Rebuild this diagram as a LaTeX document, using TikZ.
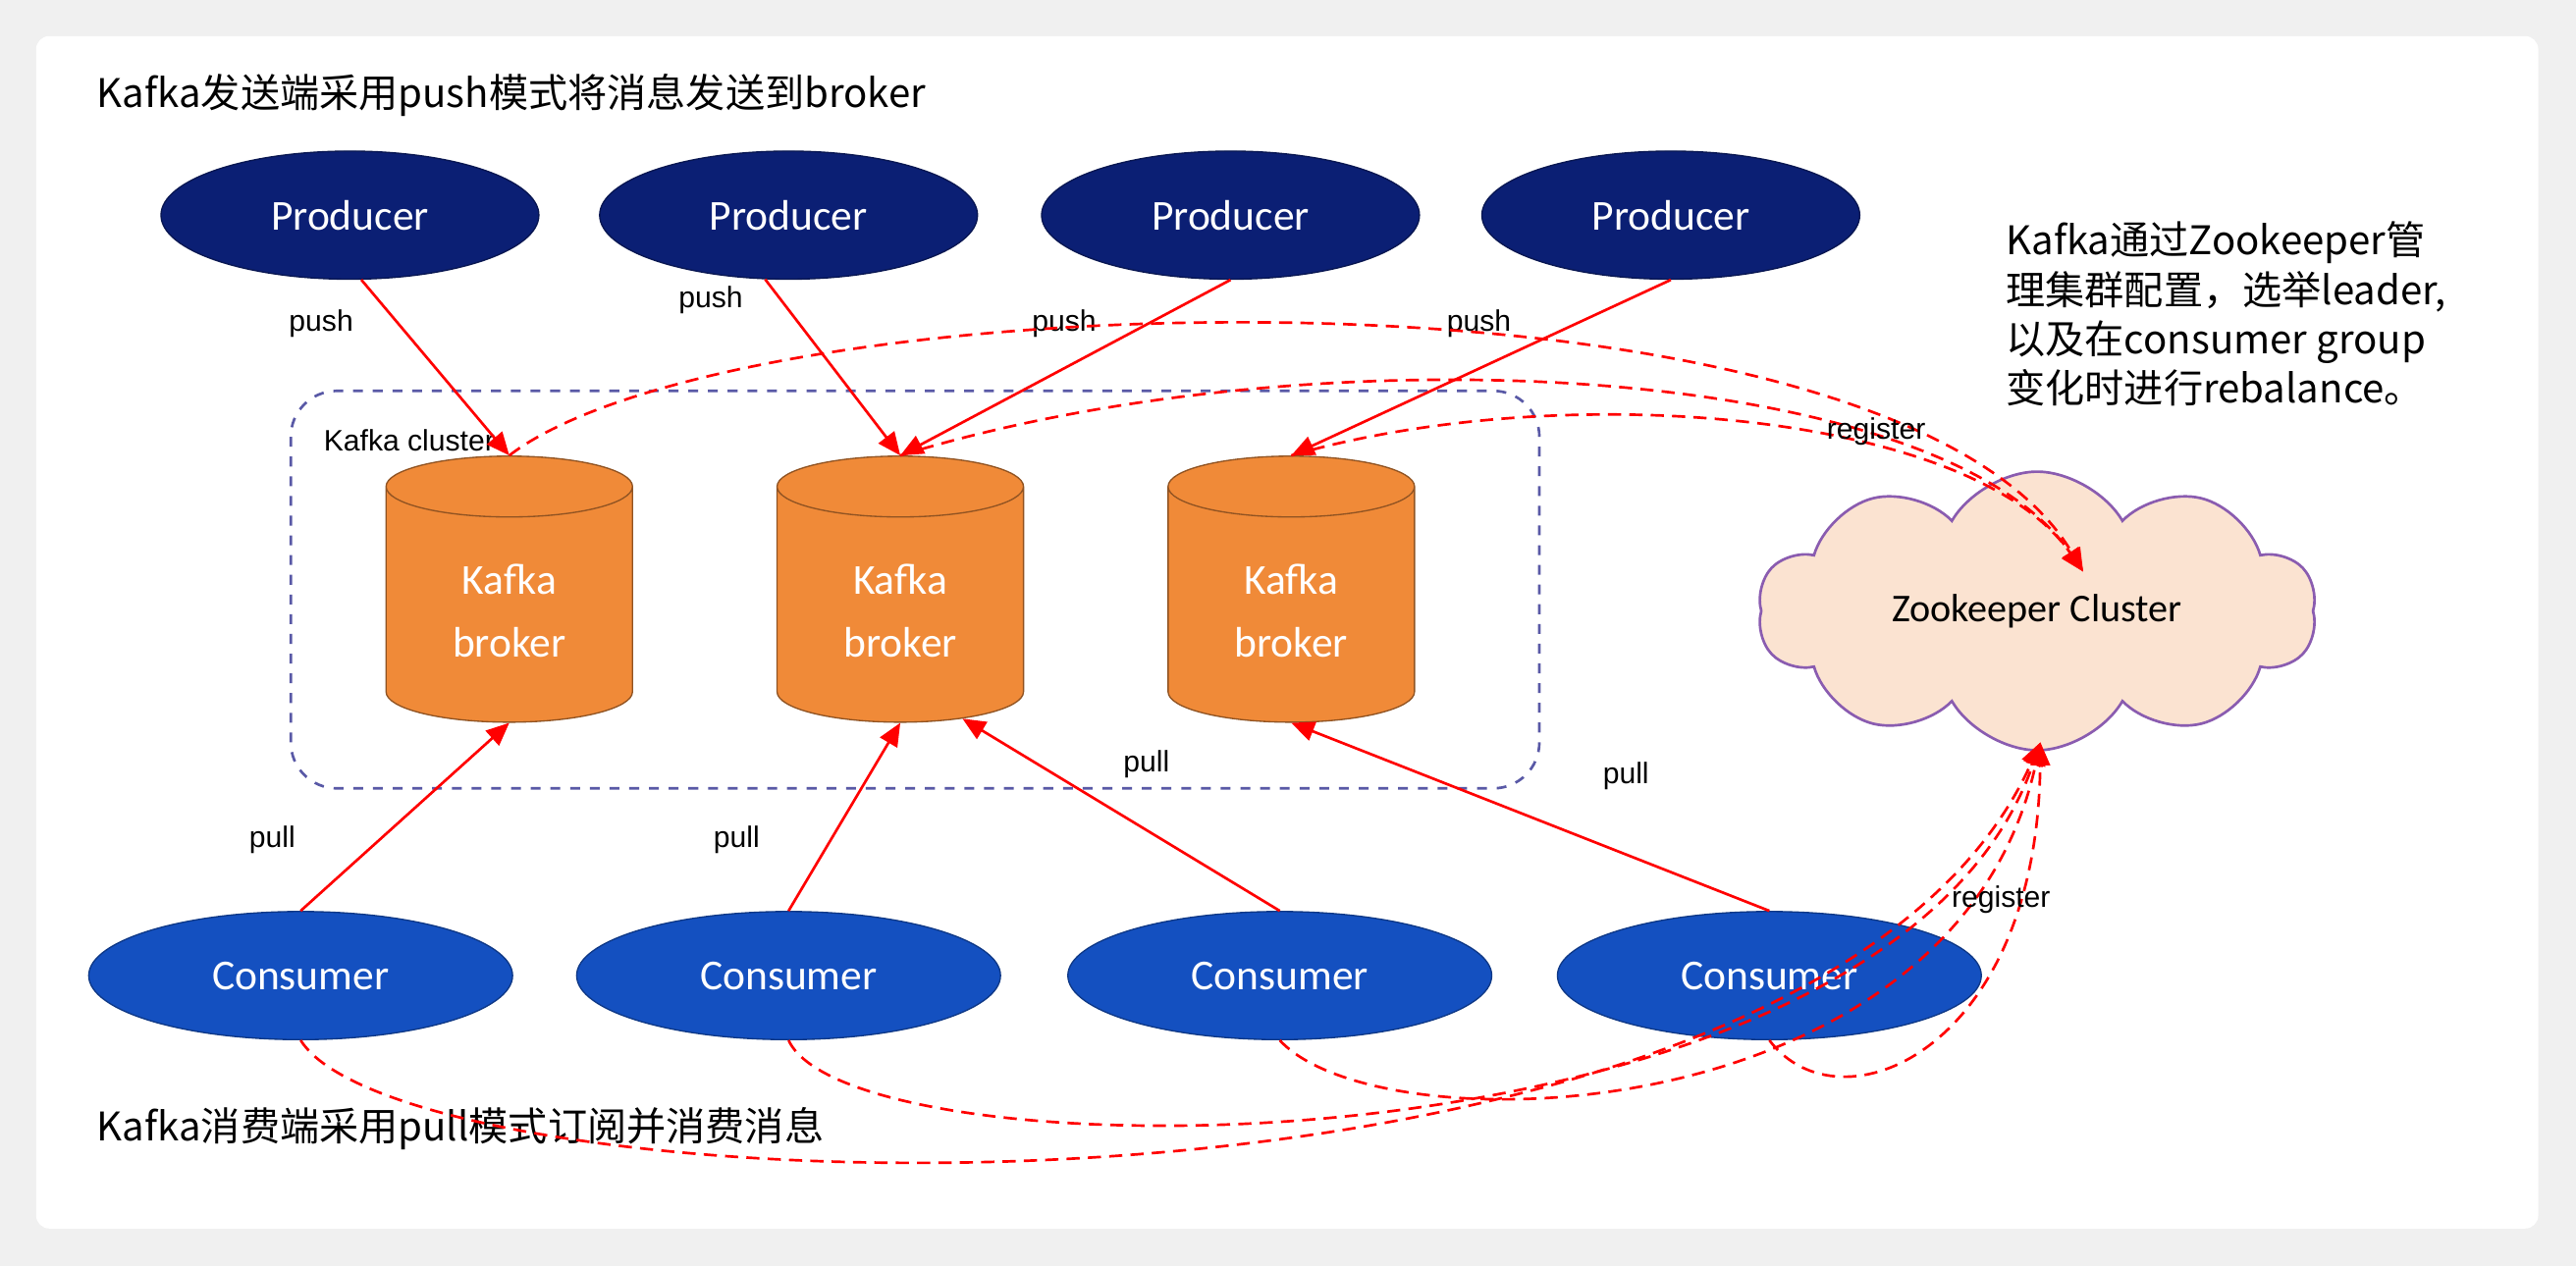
\documentclass[tikz,border=0pt]{standalone}
\usepackage{fontspec}
\setmainfont{Carlito}
\newfontfamily\cjk{Noto Sans CJK SC}
\newfontfamily\arialf{Liberation Sans}
\usetikzlibrary{shapes.geometric,shapes.symbols,arrows.meta}

\definecolor{prodblue}{HTML}{0B1F74}
\definecolor{consblue}{HTML}{1450C0}
\definecolor{brokerorange}{HTML}{F08A38}
\definecolor{zkfill}{HTML}{FBE3D1}
\definecolor{zkline}{HTML}{8A5CB0}

\tikzset{
  producer/.style = {ellipse, fill=prodblue, draw=prodblue!70!black, text=white,
                     minimum width=115pt, minimum height=39pt, font=\fontsize{13}{13}\selectfont},
  consumer/.style = {ellipse, fill=consblue, draw=consblue!70!black, text=white,
                     minimum width=129pt, minimum height=39pt, font=\fontsize{13}{13}\selectfont},
  broker/.style   = {cylinder, shape border rotate=90, aspect=0.45, fill=brokerorange,
                     draw=brokerorange!60!black, text=white, minimum width=75pt,
                     minimum height=81pt, align=center, font=\fontsize{13}{19}\selectfont},
  flow/.style     = {red, thick, -{Triangle[length=7pt,width=6pt]}},
  reg/.style      = {red, thick, dashed, dash pattern=on 4pt off 2.5pt, -{Triangle[length=7pt,width=6pt]}},
  lbl/.style      = {text=black, font=\arialf\fontsize{9}{9}\selectfont},
  note/.style     = {font=\cjk\fontsize{12}{15}\selectfont, anchor=west, align=left},
}

\begin{document}
\begin{tikzpicture}[x=0.5pt,y=-0.5pt]

% card and frame
\fill[gray!12] (0,0) rectangle (1568,771);
\fill[white, rounded corners=4pt] (22,22) rectangle (1545,748);
\useasboundingbox (0,0) rectangle (1568,771);

\node[note] (toptext) at (52,58) {Kafka发送端采用push模式将消息发送到broker};
\node[note] (bottext) at (52,687) {Kafka消费端采用pull模式订阅并消费消息};
\node[note, anchor=north west] (zktext) at (1214,128)
  {Kafka通过Zookeeper管\\理集群配置，选举leader,\\以及在consumer group\\变化时进行rebalance。};

% producers
\node[producer] (p1) at (213,131) {Producer};
\node[producer] (p2) at (480,131) {Producer};
\node[producer] (p3) at (749,131) {Producer};
\node[producer] (p4) at (1017,131) {Producer};

% cluster
\draw[dashed, draw=gray!70!blue, thick, rounded corners=14pt] (177,238) rectangle (937,480);
\node[lbl, anchor=west] (cl) at (190,268) {Kafka cluster};

\node[broker] (b1) at (310,372) {Kafka\\broker};
\node[broker] (b2) at (548,372) {Kafka\\broker};
\node[broker] (b3) at (786,372) {Kafka\\broker};

% zookeeper
\node[cloud, cloud puffs=10, cloud puff arc=120, aspect=2.1, fill=zkfill, draw=zkline, thick,
      minimum width=170pt, minimum height=80pt, font=\fontsize{12}{12}\selectfont] (zk) at (1240,372) {Zookeeper Cluster};

% consumers
\node[consumer] (c1) at (183,594) {Consumer};
\node[consumer] (c2) at (480,594) {Consumer};
\node[consumer] (c3) at (779,594) {Consumer};
\node[consumer] (c4) at (1077,594) {Consumer};

% push
\draw[flow] (p1.-80) -- (b1.north) node[lbl, pos=0.25, left=10pt] {push};
\draw[flow] (p2.-110) -- (b2.north) node[lbl, pos=0.12, left=8pt] {push};
\draw[flow] (p3.-90) -- (b2.north) node[lbl, pos=0.25, left=12pt] {push};
\draw[flow] (p4.-90) -- (b3.north) node[lbl, pos=0.25, left=16pt] {push};

% pull
\draw[flow] (c1.north) -- (b1.south) node[lbl, pos=0.38, left=22pt] {pull};
\draw[flow] (c2.north) -- (b2.south) node[lbl, pos=0.38, left=18pt] {pull};
\draw[flow] (c3.north) -- (b2.-60) node[lbl, pos=0.42, above=12pt] {pull};
\draw[flow] (c4.north) -- (b3.south) node[lbl, pos=0.3, above=16pt] {pull};

% register (brokers)
\coordinate (zkin) at (1268,348);
\draw[reg] (b1.north) .. controls (450,170) and (1150,150) .. (zkin);
\draw[reg] (b2.north) .. controls (800,200) and (1180,220) .. (zkin);
\draw[reg] (b3.north) .. controls (950,230) and (1200,250) .. (zkin);
\node[lbl] (reg1) at (1142,263) {register};

% register (consumers)
\coordinate (zkout) at (1242,452);
\draw[reg] (c1.south) .. controls (250,740) and (1100,770) .. (zkout);
\draw[reg] (c2.south) .. controls (520,720) and (1150,720) .. (zkout);
\draw[reg] (c3.south) .. controls (840,700) and (1190,690) .. (zkout);
\draw[reg] (c4.south) .. controls (1120,690) and (1240,640) .. (zkout);
\node[lbl] (reg2) at (1218,548) {register};

\end{tikzpicture}
\end{document}
